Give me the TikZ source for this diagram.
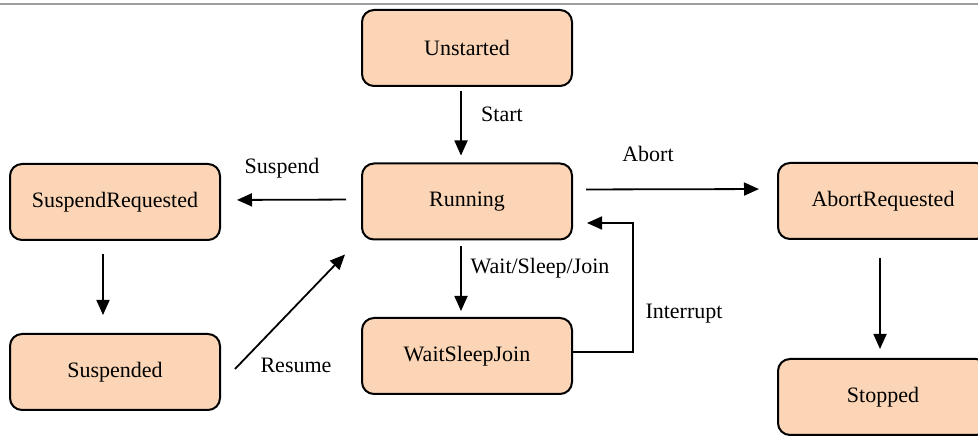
\documentclass[tikz,border=0pt]{standalone}
\usepackage{fontspec}
\setmainfont{Liberation Serif}
\usetikzlibrary{arrows.meta}
\definecolor{peach}{HTML}{FBD5B5}
\begin{document}
\begin{tikzpicture}[x=1pt,y=-1pt,
  state/.style={draw=black, line width=2pt, fill=peach, rounded corners=12pt,
    minimum width=210pt, minimum height=76pt, inner sep=0pt,
    font=\fontsize{22}{26}\selectfont},
  lbl/.style={font=\fontsize{22}{26}\selectfont, inner sep=0pt},
  arr/.style={line width=1.8pt, -{Triangle[length=15pt,width=13pt]}}]
\useasboundingbox (0,0) rectangle (978,438);
\draw[line width=1.4pt, color=black!38] (0,4) -- (978,4);
\node[state] (uns) at (467,48) {Unstarted};
\node[state] (run) at (467,201.5) {Running};
\node[state] (sreq) at (115,202) {SuspendRequested};
\node[state] (susp) at (115,372) {Suspended};
\node[state] (wsj) at (467,356) {WaitSleepJoin};
\node[state] (areq) at (883,201) {AbortRequested};
\node[state] (stop) at (883,397) {Stopped};
% arrows
\draw[arr, shorten <=4pt, shorten >=7pt] ([xshift=-6pt]uns.south) -- ([xshift=-6pt]run.north);
\draw[arr, shorten <=15pt, shorten >=16pt] ([yshift=2pt]run.west) -- ([yshift=2pt]sreq.east);
\draw[arr, shorten <=13pt, shorten >=18pt] ([yshift=12pt]run.east) -- ([yshift=12pt]areq.west);
\draw[arr, shorten <=6pt, shorten >=6pt] ([xshift=-6pt]run.south) -- ([xshift=-6pt]wsj.north);
\draw[arr] ([yshift=4pt]wsj.east) -- ++(60,0) |- ([xshift=14pt,yshift=-21.5pt]run.east);
\draw[arr, shorten <=13pt, shorten >=18pt] ([xshift=-12pt]sreq.south) -- ([xshift=-12pt]susp.north);
\draw[arr] ([xshift=14pt,yshift=3pt]susp.east) -- ([xshift=-16pt,yshift=-14pt]run.south west);
\draw[arr, shorten <=18pt, shorten >=9pt] ([xshift=-3pt]areq.south) -- ([xshift=-3pt]stop.north);
% labels
\node[lbl] (lstart) at (502,114) {Start};
\node[lbl] (lsusp) at (282,168) {Suspend};
\node[lbl] (labort) at (648,154) {Abort};
\node[lbl] (lwait) at (540,268) {Wait/Sleep/Join};
\node[lbl] (lint) at (684,314) {Interrupt};
\node[lbl] (lres) at (296,365) {Resume};
\end{tikzpicture}
\end{document}
